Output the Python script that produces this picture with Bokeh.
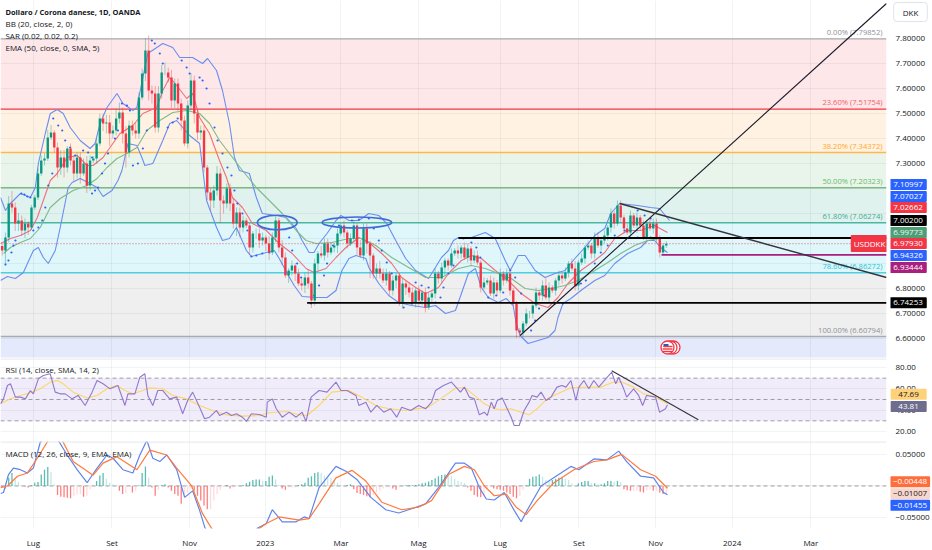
from bokeh.plotting import figure
from bokeh.layouts import column, row
from bokeh.models import Range1d, FixedTicker, NumeralTickFormatter, Label, Span
from bokeh.core.properties import value
from bokeh.embed import file_html
from bokeh.resources import INLINE
import numpy as np

FONT = "Open Sans"
TEXT = "#131722"
# ---------------- x scale ticks
X_TICKS = [33, 112, 190, 266, 342, 420, 502, 581, 658, 735, 814]
X_LABELS = ["Lug", "Set", "Nov", "2023", "Mar", "Mag", "Lug", "Set", "Nov", "2024", "Mar"]
X_END = 890
BAR_X0 = 1.7
BAR_STEP = 3.27

# ---------------- candles
CLOSE = [
6.952,7.004,7.140,7.124,7.060,7.072,7.032,7.060,7.044,7.124,
7.164,7.260,7.312,7.320,7.404,7.424,7.364,7.284,7.324,7.284,
7.360,7.312,7.260,7.324,7.260,7.300,7.212,7.312,7.320,7.380,
7.480,7.460,7.464,7.420,7.432,7.480,7.504,7.420,7.344,7.452,
7.432,7.420,7.564,7.660,7.752,7.592,7.580,7.444,7.580,7.664,
7.664,7.644,7.552,7.620,7.540,7.472,7.380,7.532,7.632,7.500,
7.424,7.432,7.284,7.184,7.152,7.192,7.260,7.152,7.140,7.200,
7.140,7.060,7.104,7.044,7.072,7.052,6.964,7.020,7.020,6.992,
7.004,6.980,6.944,7.004,7.072,6.964,6.924,6.852,6.872,6.892,
6.860,6.820,6.812,6.844,6.820,6.752,6.900,6.940,6.932,6.980,
6.944,6.964,6.972,7.020,7.052,7.024,6.980,7.000,7.052,6.964,
6.932,7.040,6.980,6.932,6.860,6.880,6.860,6.832,6.860,6.792,
6.832,6.852,6.740,6.820,6.804,6.784,6.744,6.792,6.752,6.784,
6.724,6.764,6.780,6.860,6.840,6.884,6.912,6.892,6.940,6.952,
6.940,6.964,6.924,6.960,6.912,6.932,6.904,6.804,6.824,6.832,
6.780,6.824,6.792,6.860,6.832,6.860,6.792,6.740,6.632,6.624,
6.660,6.700,6.700,6.732,6.784,6.772,6.812,6.764,6.804,6.792,
6.832,6.852,6.840,6.864,6.900,6.880,6.812,6.904,6.920,6.964,
6.972,6.940,7.004,6.972,6.992,7.012,7.044,7.100,7.060,7.132,
7.084,7.040,7.024,7.092,7.052,7.084,7.052,7.004,7.060,7.040,
7.060,7.004,6.944,6.972,6.979]
FIRST_OPEN = 6.97
# wick lengths, hundredths of a krone
WICK_UP = [
1,2,3,5,2,3,2,2,1,1, 1,2,2,2,3,3,1,2,3,3, 1,2,2,2,2,2,3,2,1,2, 2,2,3,3,2,4,4,2,3,2,
2,3,2,2,5,6,2,3,3,3, 4,2,3,2,2,2,2,2,3,2, 2,2,2,1,2,2,3,2,2,2, 2,2,2,2,2,1,1,1,2,2,
2,1,3,2,2,1,3,2,1,2, 1,2,2,2,3,1,2,1,3,2, 2,2,1,2,1,2,1,2,2,1, 3,2,2,1,1,2,3,2,2,1,
2,1,1,2,1,2,2,1,2,1, 2,2,1,2,1,2,1,1,2,1, 2,1,2,2,1,2,2,1,2,1, 2,2,1,2,1,2,2,1,1,1,
1,2,1,1,2,1,2,3,2,1, 1,2,1,2,1,2,3,1,2,1, 2,1,2,2,1,2,1,2,1,2, 2,1,2,2,1,2,1,2,1,2, 2,2,1,1,1]
WICK_DN = [
2,6,2,2,3,3,2,3,3,1, 1,1,1,2,1,1,2,4,3,4, 2,2,3,2,4,1,3,2,1,2, 1,3,4,5,2,2,2,4,6,2,
2,2,2,1,3,4,4,2,2,2, 1,2,3,3,3,4,1,2,2,4, 3,3,2,3,4,3,2,9,4,2, 3,2,5,4,2,1,3,2,2,3,
2,3,3,1,2,2,3,1,3,2, 3,1,2,3,2,3,2,3,1,2, 2,1,2,3,1,2,2,1,2,3, 1,2,4,9,2,2,2,1,2,2,
2,3,1,2,3,2,1,2,2,2, 2,1,2,2,2,2,3,2,1,1, 2,2,1,2,2,1,1,2,1,1, 1,2,2,1,2,1,2,1,3,2,
2,1,2,2,1,2,2,1,2,1, 2,2,2,1,2,1,2,2,1,2, 1,2,2,1,2,1,2,2,2,1, 2,2,1,2,1,3,2,1,1,1, 2,2,2,1,1]

# ---------------- overlay indicators (x on the chart's scale, y in DKK)
BBU_X = [0,5,10,20,30,35,38,45,50,57,63,70,80,90,95,100,107,117,123,133,137,143,148,163,173,180,193,203,208,217,223,230,235,240,250,257,263,277,287,297,303,310,315,320,328,337,342,350,360,370,380,388,397,407,417,430,435,443,450,455,460,473,487,497,507,512,520,527,537,547,557,567,577,587,597,607,613,622,640,653,662,672]
BBU_V = [7.164,7.112,7.140,7.180,7.164,7.204,7.300,7.420,7.500,7.516,7.500,7.444,7.392,7.360,7.380,7.460,7.524,7.580,7.540,7.512,7.524,7.644,7.740,7.780,7.764,7.724,7.724,7.700,7.720,7.672,7.592,7.460,7.324,7.272,7.260,7.164,7.100,7.092,7.084,7.040,6.992,6.944,6.944,6.980,7.020,7.072,7.092,7.072,7.072,7.100,7.092,7.060,6.992,6.920,6.872,6.840,6.872,6.924,6.952,6.992,7.004,7.004,7.024,7.000,6.912,6.872,6.932,6.932,6.872,6.844,6.860,6.872,6.920,6.964,7.012,7.040,7.100,7.140,7.132,7.124,7.120,7.072]
BBL_X = [0,7,15,23,33,38,43,48,55,60,68,72,80,88,97,103,112,118,122,128,137,142,145,153,163,170,177,190,200,207,217,223,230,237,247,252,267,275,280,288,295,303,317,328,337,343,350,357,367,370,380,390,400,413,427,437,447,457,463,470,477,483,490,500,508,515,518,522,530,540,550,557,560,565,573,583,597,607,617,630,643,650,657,663,670]
BBL_V = [6.832,6.848,6.840,6.864,6.952,6.964,6.924,6.900,6.952,7.044,7.204,7.224,7.240,7.224,7.204,7.168,7.192,7.232,7.272,7.380,7.372,7.324,7.292,7.300,7.392,7.460,7.472,7.412,7.380,7.152,7.044,6.992,7.000,7.044,6.952,6.928,6.944,6.952,6.920,6.860,6.812,6.768,6.764,6.764,6.792,6.872,6.920,6.932,6.920,6.884,6.820,6.772,6.744,6.732,6.724,6.732,6.700,6.712,6.780,6.860,6.880,6.804,6.764,6.744,6.760,6.732,6.660,6.612,6.580,6.592,6.604,6.632,6.684,6.740,6.760,6.792,6.832,6.852,6.900,6.940,6.964,6.992,6.992,6.964,6.944]
BASIS_X = [0,10,20,30,37,43,50,57,67,77,87,93,103,110,120,133,143,157,163,170,177,187,193,200,210,220,227,233,243,253,267,280,293,307,315,327,337,347,360,370,383,393,403,417,427,440,450,463,473,483,497,510,523,537,550,560,570,583,597,607,617,630,643,657,670]
BASIS_V = [6.98,7.0,7.012,7.032,7.084,7.152,7.232,7.26,7.324,7.332,7.292,7.292,7.324,7.364,7.42,7.452,7.5,7.524,7.592,7.644,7.612,7.56,7.58,7.484,7.42,7.312,7.244,7.164,7.124,7.06,7.032,6.98,6.94,6.88,6.864,6.88,6.924,6.964,7.004,6.984,6.94,6.9,6.844,6.804,6.78,6.804,6.86,6.912,6.932,6.92,6.872,6.832,6.78,6.74,6.724,6.764,6.82,6.872,6.912,6.944,7.0,7.032,7.032,7.052,7.024]
EMA_X = [3,10,20,30,40,50,60,73,87,97,107,117,127,137,147,160,173,187,200,210,220,230,243,257,270,283,297,307,317,333,350,363,377,393,410,427,443,460,473,487,500,513,527,540,553,567,580,597,610,623,637,650,662]
EMA_V = [6.94,6.964,6.984,7.0,7.044,7.124,7.16,7.192,7.212,7.24,7.284,7.32,7.34,7.364,7.432,7.472,7.504,7.512,7.5,7.46,7.392,7.34,7.272,7.204,7.152,7.1,7.032,6.992,6.98,6.984,7.0,7.0,6.972,6.924,6.884,6.844,6.844,6.88,6.892,6.88,6.86,6.84,6.8,6.792,6.8,6.812,6.832,6.872,6.904,6.94,6.972,6.992,7.0]
SAR_X = [5,8,11,13,15,21,24,27,30,33,38,42,45,48,52,53,58,62,65,70,75,83,88,92,92,95,98,102,105,108,115,118,122,127,130,133,138,143,147,152,155,160,163,168,173,178,182,187,190,200,203,207,210,215,218,223,228,232,235,238,243,248,252,257,263,270,290,293,298,302,312,315,320,325,328,334,340,353,360,370,375,380,383,388,393,405,413,422,417,423,430,430,437,442,445,450,455,465,473,478,482,490,498,505,512,517,523,533,537,541,546,557,565,578,583,588,597,603,610,617,627,640,647,653,640,647,653]
SAR_V = [6.896,6.912,6.944,6.972,6.992,7.18,7.176,7.168,7.164,7.032,7.044,7.072,7.124,7.212,7.26,7.48,7.452,7.432,7.392,7.364,7.332,7.352,7.344,7.324,7.18,7.192,7.204,7.26,7.3,7.34,7.4,7.432,7.54,7.532,7.512,7.292,7.3,7.36,7.432,7.792,7.78,7.74,7.7,7.444,7.464,7.48,7.712,7.684,7.66,7.644,7.632,7.6,7.54,7.444,7.392,7.34,7.284,7.252,7.192,7.14,7.1,7.032,6.928,6.932,6.94,6.944,7.004,6.952,6.9,6.844,6.74,6.772,6.812,6.852,6.9,6.972,7.052,7.072,7.076,7.08,7.04,6.992,6.952,6.904,6.86,6.724,6.74,6.744,6.824,6.812,6.804,6.74,6.744,6.764,6.804,6.86,6.892,7.0,6.984,6.964,6.924,6.764,6.772,6.784,6.872,6.844,6.78,6.632,6.672,6.72,6.772,6.74,6.74,6.812,6.82,6.832,6.9,6.944,6.972,7.012,7.032,7.112,7.092,7.08,7.004,7.004,7.004]

# ---------------- fibonacci
FIB_PCT = [0.0, 23.6, 38.2, 50.0, 61.8, 78.6, 100.0]
FIB_LEVEL = [7.79852, 7.51754, 7.34372, 7.20323, 7.06274, 6.86272, 6.60794]
FIB_LINE = ["#a9abb2", "#f23645", "#ffb74d", "#81b784", "#4db6a0", "#4dd0e1", "#a9abb2"]
FIB_TEXT = ["#8e9199", "#f4606b", "#ffa726", "#66bb6a", "#43ab94", "#26c6da", "#8e9199"]
FIB_FILL = ["#fde7e9", "#fff2e3", "#e9f5ea", "#e0f2ee", "#dff7fa", "#efefef", "#e4e9fb"]
FIB_BOTTOMS = [7.51754, 7.34372, 7.20323, 7.06274, 6.86272, 6.60794, 6.524]

# ---------------- RSI
RSI_X = [0,3,7,10,15,20,25,30,33,38,43,50,55,60,65,72,78,85,92,97,103,110,118,125,128,135,140,145,148,153,158,163,170,177,183,188,193,200,205,210,217,220,227,232,237,243,247,252,260,267,268,273,277,283,290,297,303,307,312,320,328,337,342,348,357,360,367,372,378,385,392,398,403,412,420,427,433,437,445,453,462,466,471,476,481,486,489,493,496,499,504,509,513,516,521,526,531,534,539,543,548,553,559,564,568,573,578,581,586,591,596,601,608,614,618,621,626,629,636,641,645,649,658,662,668,670]
RSI_V = [45.9,50.6,63.1,64.7,52.2,52.2,50.6,58.4,55.3,69.4,72.5,74.1,56.9,55.3,55.3,50.6,53.8,44.4,56.9,67.8,64.7,60,63.1,44.4,55.3,55.3,70.9,74.1,53.8,44.4,58.4,58.4,50.6,52.2,36.6,49.1,56.9,42.8,31.9,33.4,39.7,35,38.1,35,36.6,33.4,29.4,36.6,35.9,33.4,47.5,50.6,41.3,33.4,38.1,33.4,38.1,29.4,52.2,58.4,56.9,66.3,58.4,58.4,53.8,44.4,47.5,38.1,44.4,38.1,41.3,33.4,42.8,39.7,44.4,41.3,47.5,58.4,63.1,66.3,56.9,61.6,52.2,50.6,35.6,38.1,35,47.5,41.3,49.1,51.4,41.3,33.4,25.6,25.6,39.7,47.5,53.8,52.2,56.9,49.1,52.2,61.6,63.1,61.6,67.8,49.1,61.6,67.8,60,67.8,61.6,69.4,75.6,64.7,70.9,60,52.2,60,53.8,44.4,53.8,52.2,38.1,41.3,45]
RSIMA_X = [0,10,20,30,40,50,57,63,73,87,97,107,117,125,133,143,150,163,173,187,200,213,227,243,260,270,287,300,308,320,333,350,363,377,390,407,430,443,457,466,476,486,496,503,513,523,531,539,549,563,573,589,603,616,624,636,646,658,670]
RSIMA_V = [45.9,50.6,53.8,56.3,60,66.3,67.8,64.7,56.9,51.3,53.8,60,63.1,58.4,55.3,58.4,60.9,60,53.8,50.6,44.4,39.7,35.6,34.4,35,37.5,38.8,35.6,35,44.4,56.9,58.4,52.2,44.4,41.3,39.7,42.8,51.3,60.6,61.3,53.8,45.9,41.3,40.3,41.3,38.1,35.6,41.3,50.6,56.9,60.9,61.6,61.6,66.3,66.3,61.6,55.3,52.2,46]
RSI_LEVELS = [70, 50, 30]

# ---------------- MACD
MACD_X = [0,3,8,13,20,27,33,40,42,50,57,67,77,87,97,107,113,123,133,140,147,153,160,167,177,185,193,200,205,213,235,250,258,267,273,283,297,305,310,320,337,347,358,372,387,400,413,427,440,457,466,473,481,488,496,506,516,523,529,543,563,573,581,596,609,621,629,643,656,666,670]
MACD_V = [-.012,-.0104,.0182,.0286,.026,.0208,.0286,.0703,.0729,.1016,.0755,.0495,.026,.0052,.0286,.0495,.0443,.026,.0208,.0495,.0729,.0443,.039,.0495,.026,-.0182,-.0078,-.039,-.0651,-.0964,-.16,-.1,-.0677,-.0599,-.038,-.0573,-.0573,-.0495,-.0521,-.0026,.0313,.0234,.0104,-.0182,-.038,-.0432,-.0365,-.0286,-.0026,.0365,.0365,.0286,-.0026,-.0208,-.0224,-.0104,-.039,-.0573,-.039,0,.0208,.0313,.026,.0432,.0417,.0557,.039,.0156,.013,-.0104,-.0141]
SIG_X = [0,7,17,27,37,48,62,73,93,103,117,127,137,150,167,177,192,203,213,220,240,258,267,280,300,310,320,337,353,367,383,403,420,433,450,466,476,486,496,508,518,528,539,556,576,596,609,624,643,658,670]
SIG_V = [-.0026,0,.0156,.0208,.0443,.0729,.0729,.039,.0172,.0365,.0469,.0365,.026,.0573,.0495,.0286,0,-.0443,-.0703,-.0964,-.13,-.0703,-.0599,-.0495,-.0547,-.0521,-.0286,.013,.025,.0078,-.026,-.038,-.0339,-.0234,.0182,.0313,.026,0,-.0156,-.013,-.0339,-.0458,-.0234,.0052,.026,.0391,.0417,.0505,.026,.0156,-.0036]
# histogram, thousandths
HIST = [
-1.6,-4.2,13,20.8,10.4,6.2,1.6,-1,-2.6,1,
5.2,6.2,18.2,26,30.2,21.8,2.6,-14.6,-17.2,-18.2,
-18.8,-19.8,-15.6,-13.5,-13,-17.2,-15.6,-5.2,-1,7.8,
16.6,20.8,11.4,5.2,2.6,1,-7.8,-13,-11.4,-1.6,
-10.4,-7.8,1,20.8,31.2,13,-2.6,-15.6,-6.2,1,
2.6,-2.6,-7.8,-13,-15.6,-28.6,-18.2,-10.4,-5.2,-7.8,
-15.6,-23.4,-31.2,-37.4,-37.4,-23.4,-13,-6.2,-1.6,1.6,
-4.2,-2.6,-1,0.5,1.6,4.2,6.8,9.4,10.4,10.4,
7.8,7.8,14.6,16.6,10.4,1.6,-4.2,-6.2,-2.6,-2.6,
-2.6,1.6,2.6,5.2,13,15.6,20.8,21.8,20.8,16.6,
14.6,13,9.4,5.2,1.6,-0.5,1.6,2.6,-5.2,-11.4,
-13,-14.6,-16.6,-18.2,-14.6,-10.4,-7.8,-4.2,-2.6,-2.6,
-4.2,-6.2,-2,-0.5,1,1,1,1.6,2.6,4.2,
5.2,7.3,9.4,12.5,15.6,17.7,18.2,17.2,15.6,11.4,
7.8,6.2,5.2,-2.6,-7.8,-14.6,-17.2,-18.2,-15.6,-6.2,
-2.6,-4.2,-5.2,-6.2,-7.8,-10.4,-13,-17.2,-19.8,-15.6,
-6.2,1,11.4,14.6,15.6,18.2,14.6,9.4,7.8,9.4,
11.4,13,13,11.4,9.4,4.2,1.6,4.2,6.2,7.8,
7.8,4.2,4.2,2.6,2.6,4.2,7.8,7.8,6.2,7.8,
6.2,-5.2,-6.8,-7.8,-7.8,-7.8,-9.4,-10.4,-6.8,-6.2,
-7.8,-7.8,-10.4,-13,-13]

# ---------------- price tags: text, position on scale, fill, text colour
TAGS = [("7.10997",7.216,"#2962ff","#fff"),("7.07027",7.168,"#2962ff","#fff"),
        ("7.02662",7.124,"#f23645","#fff"),("7.00200",7.072,"#000000","#fff"),
        ("6.99773",7.024,"#4e9f78","#eaf6ec"),("6.97930",6.98,"#f23645","#fff"),
        ("6.94326",6.932,"#2962ff","#fff"),("6.93444",6.884,"#a81f7d","#fff"),
        ("6.74253",6.74253,"#000000","#fff")]
RSI_TAGS = [("47.69",55.0,"#ffd27a",TEXT),("43.81",43.5,"#6f6d8e","#fff")]
MACD_TAGS = [("\u22120.00448",.0083,"#ff6d3b","#fff"),("\u22120.01007",-.0104,"#f9d6cc",TEXT),("\u22120.01455",-.0286,"#2962ff","#fff")]

BLUE = "#6a8df0"
shared_x = Range1d(0, X_END)
side_x = Range1d(X_END, 932)


def panel(h, ymin, ymax, grid_ticks, axis_ticks, fmt, overrides=None, xaxis=False):
    p = figure(width=932, height=h, x_range=shared_x, y_range=Range1d(ymin, ymax),
               y_axis_location="right", output_backend="svg", toolbar_location=None,
               min_border=0, min_border_right=42, min_border_bottom=20 if xaxis else 0,
               background_fill_color="#ffffff", outline_line_color=None)
    p.ygrid.ticker = FixedTicker(ticks=grid_ticks)
    p.xgrid.ticker = FixedTicker(ticks=X_TICKS)
    for g in (p.xgrid[0], p.ygrid[0]):
        g.grid_line_color = "#2a2e39"
        g.grid_line_alpha = 0.06
    ax = p.yaxis[0]
    ax.ticker = FixedTicker(ticks=axis_ticks)
    ax.formatter = NumeralTickFormatter(format=fmt)
    if overrides:
        ax.major_label_overrides = overrides
    ax.axis_line_color = None
    ax.major_tick_line_color = None
    ax.minor_tick_line_color = None
    ax.major_label_text_font = FONT
    ax.major_label_text_font_size = "8px"
    ax.major_label_text_color = TEXT
    ax.major_label_standoff = 3
    xa = p.xaxis[0]
    if xaxis:
        xa.ticker = FixedTicker(ticks=X_TICKS)
        xa.major_label_overrides = dict(zip(X_TICKS, X_LABELS))
        xa.axis_line_color = None
        xa.major_tick_line_color = None
        xa.minor_tick_line_color = None
        xa.major_label_text_font = FONT
        xa.major_label_text_font_size = "8px"
        xa.major_label_text_color = TEXT
        xa.major_label_standoff = 2
    else:
        xa.visible = False
    return p


def side(h, main, bottom=0):
    s = figure(width=42, height=h, x_range=side_x, y_range=main.y_range, output_backend="svg",
               toolbar_location=None, x_axis_location=None, y_axis_location=None, min_border=0,
               min_border_bottom=bottom, background_fill_alpha=0, border_fill_alpha=0,
               outline_line_color=None)
    s.grid.visible = False
    return s


def note(p, txt, x, y, color=TEXT, weight="normal", size="8px", align="left"):
    p.add_layout(Label(x=x, y=y, text=txt, text_font=FONT, text_font_size=size, text_color=color,
                       text_font_style=weight, text_baseline="middle", text_align=align))


def tag(p, txt, y, fill, color, x=908, pad=(4, 3), border=None):
    p.add_layout(Label(x=x, y=y, text=txt, text_font=FONT, text_font_size="8px", text_color=color,
                       text_baseline="middle", text_align="center", background_fill_color=fill,
                       border_line_color=border, padding=pad, border_radius=1))


# ================= main pane
p1 = panel(358, 6.52, 7.952, [7.8,7.7,7.6,7.5,7.4,7.3,7.2,7.1,7.0,6.9,6.8,6.7,6.6],
           [7.8,7.7,7.6,7.5,7.4,7.3,6.8,6.7,6.6], "0.00000")
s1 = side(358, p1)
p1.quad(left=0, right=X_END, top=FIB_LEVEL, bottom=FIB_BOTTOMS, fill_color=FIB_FILL, line_color=None, level="image")
for lvl, col in zip(FIB_LEVEL, FIB_LINE):
    p1.line([0, X_END], [lvl, lvl], line_color=col, line_width=1.4)
fib_txt = [f"{a:.2f}% ({b:.5f})" for a, b in zip(FIB_PCT, FIB_LEVEL)]
p1.text(x=[886]*7, y=FIB_LEVEL, text=fib_txt, text_color=FIB_TEXT, text_font=value(FONT),
        text_font_size="7.6px", text_align="right", text_baseline="bottom", y_offset=-2)

p1.line(BBU_X, BBU_V, line_color=BLUE, line_width=1.1)
p1.line(BBL_X, BBL_V, line_color=BLUE, line_width=1.1)
p1.line(BASIS_X, BASIS_V, line_color="#ef6f7a", line_width=1.1)
p1.line(EMA_X, EMA_V, line_color="#7fba8a", line_width=1.1)
p1.scatter(SAR_X, SAR_V, size=2.2, color="#2962ff", line_color=None)

close = np.array(CLOSE)
n = len(close)
opn = np.r_[FIRST_OPEN, close[:-1]]
xs = BAR_X0 + BAR_STEP * np.arange(n)
top = np.maximum(opn, close)
bot = np.minimum(opn, close)
hi = top + np.array(WICK_UP[:n]) * 0.01
lo = bot - np.array(WICK_DN[:n]) * 0.01
col = np.where(close >= opn, "#089981", "#f23645").tolist()
p1.segment(xs, hi, xs, lo, line_color=col, line_alpha=0.4, line_width=1)
p1.vbar(x=xs, top=top, bottom=bot, width=2.4, fill_color=col, line_color=None)

# price line and drawings
p1.line([0, 857], [6.9793, 6.9793], line_color="#f23645", line_width=0.8, line_dash="1 2")
p1.line([308, X_END], [6.74253, 6.74253], line_color="#000000", line_width=1.8)
p1.line([460, X_END], [7.002, 7.002], line_color="#000000", line_width=1.8)
p1.line([664, X_END], [6.93444, 6.93444], line_color="#a81f7d", line_width=1.6)
p1.line([522, X_END], [6.612, 7.94], line_color="#1a1a2a", line_width=1.1)
p1.line([622, X_END], [7.14, 6.844], line_color="#33343c", line_width=1.4)
p1.ellipse(x=[278, 358], y=[7.064, 7.064], width=[40, 70], height=[0.058, 0.044],
           fill_color=None, line_color="#3f6ad8", line_width=1.6)
# event flags
p1.scatter([676, 673, 670], [6.564]*3, size=13, fill_color="#ffffff", line_color="#f23645", line_width=1.3)
p1.quad(left=666, right=671, top=6.578, bottom=6.566, fill_color="#2c57b5", line_color=None)
p1.segment([665, 665, 666], [6.558, 6.548, 6.568], [675, 675, 675], [6.558, 6.548, 6.568], line_color="#f23645", line_width=1.4)

note(p1, "Dollaro / Corona danese, 1D, OANDA", 5, 7.908, weight="bold", size="7.45px")
note(p1, "BB (20, close, 2, 0)", 5, 7.860)
note(p1, "SAR (0.02, 0.02, 0.2)", 5, 7.812)
note(p1, "EMA (50, close, 0, SMA, 5)", 5, 7.764)
for t, y, f, c in TAGS:
    tag(s1, t, y, f, c, x=907.5, pad=(4, 3))
tag(p1, "USDDKK", 6.98, "#f23645", "#fff", x=873, pad=(3, 3))
s1.add_layout(Label(x=910, y=7.906, text="DKK", text_font=FONT, text_font_size="8px", text_color=TEXT,
                    text_baseline="middle", text_align="center", background_fill_color="#ffffff",
                    border_line_color="#e0e3eb", padding=(9, 4), border_radius=3))

# ================= RSI pane
p2 = panel(83, 10.6, 88.44, [80, 60, 40, 20], [80, 60, 40, 20], "0.00")
s2 = side(83, p2)
p2.quad(left=0, right=X_END, top=RSI_LEVELS[0], bottom=RSI_LEVELS[2], fill_color="#f0ecf9", line_color=None, level="image")
for lv in RSI_LEVELS:
    p2.line([0, X_END], [lv, lv], line_color="#9a9da6", line_width=1, line_dash="4 3")
p2.line(RSIMA_X, RSIMA_V, line_color="#fdd663", line_width=1.1)
p2.line(RSI_X, RSI_V, line_color="#9377cd", line_width=1.1)
p2.line([614, 701], [77, 31], line_color="#33343c", line_width=1.1)
note(p2, "RSI (14, close, SMA, 14, 2)", 5, 78.0)
for t, y, f, c in RSI_TAGS:
    tag(s2, t, y, f, c, x=908, pad=(8, 3))

# ================= MACD pane
p3 = panel(109, -0.068, 0.0711, [0.05, 0, -0.05], [0.05, -0.05], "0.00000",
           overrides={-0.05: "\u22120.05000"}, xaxis=True)
s3 = side(109, p3, bottom=20)
p3.line([0, X_END], [0, 0], line_color="#9a9da6", line_width=1, line_dash="4 3")
hist = np.array(HIST[:n]) * 0.001
prev = np.r_[0.0, hist[:-1]]
hcol = [("#26a69a" if h >= q else "#b2dfdb") if h >= 0 else ("#ffcdd2" if h >= q else "#ff5252")
        for h, q in zip(hist, prev)]
p3.vbar(x=xs, top=np.maximum(hist, 0), bottom=np.minimum(hist, 0), width=1.3, fill_color=hcol, fill_alpha=0.75, line_color=None)
p3.line(MACD_X, MACD_V, line_color="#5f84ea", line_width=1.2)
p3.line(SIG_X, SIG_V, line_color="#ff7a3d", line_width=1.2)
note(p3, "MACD (12, 26, close, 9, EMA, EMA)", 5, 0.0513)
for t, y, f, c in MACD_TAGS:
    tag(s3, t, y, f, c, x=909.5, pad=(3, 3))

for p, yv in ((p2, 88.0), (p3, 0.0705)):
    p.add_layout(Span(location=yv, dimension="width", line_color="#e0e3eb", line_width=1.2))

left = column(p1, p2, p3, spacing=0)
right = column(s1, s2, s3, spacing=0, margin=(0, 0, 0, -42))
page = row(left, right, spacing=0)
open("out.html", "w").write(file_html(page, INLINE))
